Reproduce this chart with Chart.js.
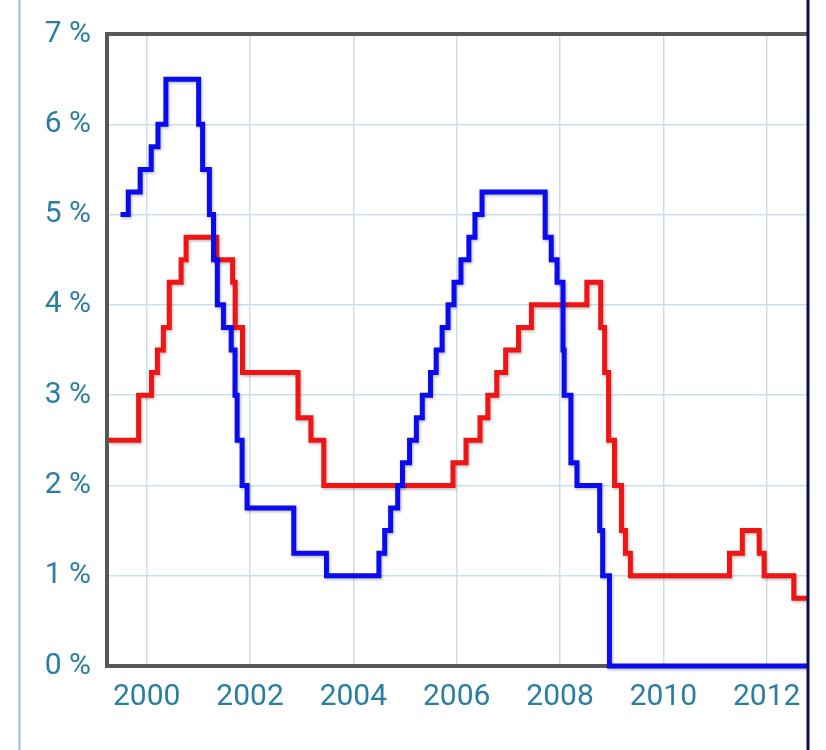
<!DOCTYPE html>
<html>
<head>
<meta charset="utf-8">
<script src="https://cdn.jsdelivr.net/npm/chart.js@4/dist/chart.umd.min.js"></script>
<style>
  html, body { margin: 0; padding: 0; background: #ffffff; }
  #wrap { width: 826px; height: 750px; position: relative; }
</style>
</head>
<body>
<div id="wrap"><canvas id="c" width="826" height="750"></canvas></div>
<script>
// US Federal funds target rate (blue): date of change and new rate (%)
const fedDates = ['1999-06-30','1999-08-24','1999-11-16','2000-02-02','2000-03-21','2000-05-16',
  '2001-01-03','2001-01-31','2001-03-20','2001-04-18','2001-05-15','2001-06-27','2001-08-21',
  '2001-09-17','2001-10-02','2001-11-06','2001-12-11','2002-11-06','2003-06-25','2004-06-30',
  '2004-08-10','2004-09-21','2004-11-10','2004-12-14','2005-02-02','2005-03-22','2005-05-03',
  '2005-06-30','2005-08-09','2005-09-20','2005-11-01','2005-12-13','2006-01-31','2006-03-28',
  '2006-05-10','2006-06-29','2007-09-18','2007-10-31','2007-12-11','2008-01-22','2008-01-30',
  '2008-03-18','2008-04-30','2008-10-08','2008-10-29','2008-12-16','2012-12-31'];
const fedRates = [5.0,5.25,5.5,5.75,6.0,6.5,
  6.0,5.5,5.0,4.5,4.0,3.75,3.5,
  3.0,2.5,2.0,1.75,1.25,1.0,1.25,
  1.5,1.75,2.0,2.25,2.5,2.75,3.0,
  3.25,3.5,3.75,4.0,4.25,4.5,4.75,
  5.0,5.25,4.75,4.5,4.25,3.5,3.0,
  2.25,2.0,1.5,1.0,0,0];

// ECB main refinancing rate (red)
const ecbDates = ['1999-04-09','1999-11-05','2000-02-04','2000-03-17','2000-04-28','2000-06-09',
  '2000-09-01','2000-10-06','2001-05-11','2001-08-31','2001-09-18','2001-11-09','2002-12-06',
  '2003-03-07','2003-06-06','2005-12-06','2006-03-08','2006-06-15','2006-08-09','2006-10-11',
  '2006-12-13','2007-03-14','2007-06-13','2008-07-09','2008-10-15','2008-11-12','2008-12-10',
  '2009-01-21','2009-03-11','2009-04-08','2009-05-13','2011-04-13','2011-07-13','2011-11-09',
  '2011-12-14','2012-07-11','2012-12-31'];
const ecbRates = [2.5,3.0,3.25,3.5,3.75,4.25,
  4.5,4.75,4.5,4.25,3.75,3.25,2.75,
  2.5,2.0,2.25,2.5,2.75,3.0,3.25,
  3.5,3.75,4.0,4.25,3.75,3.25,2.5,
  2.0,1.5,1.25,1.0,1.25,1.5,1.25,
  1.0,0.75,0.75];

const xTickYears = [2000, 2002, 2004, 2006, 2008, 2010, 2012];
const yTickValues = [0, 1, 2, 3, 4, 5, 6, 7];

function toYear(s) {
  const [y, m, d] = s.split('-').map(Number);
  const start = Date.UTC(y, 0, 1), end = Date.UTC(y + 1, 0, 1);
  return y + (Date.UTC(y, m - 1, d) - start) / (end - start);
}
function pts(dates, vals) { return dates.map((d, i) => ({ x: toYear(d), y: vals[i] })); }

const labelColor = '#2a7ea2';
const gridColor = '#cadfee';
const axisGray = '#585858';

const frame = {
  id: 'frame',
  beforeDatasetsDraw(chart) {
    const { ctx, chartArea: a } = chart;
    ctx.save();
    ctx.strokeStyle = axisGray;
    ctx.lineWidth = 4;
    ctx.beginPath();
    ctx.moveTo(a.left - 2, a.top);
    ctx.lineTo(a.right, a.top);
    ctx.stroke();
    ctx.restore();
  },
  beforeDatasetDraw(chart) {
    const ctx = chart.ctx;
    ctx.save();
    ctx.shadowColor = 'rgba(0,0,0,0.28)';
    ctx.shadowBlur = 3;
    ctx.shadowOffsetX = 1;
    ctx.shadowOffsetY = 1.5;
  },
  afterDatasetDraw(chart) { chart.ctx.restore(); },
  afterDraw(chart) {
    const { ctx, chartArea: a } = chart;
    ctx.save();
    ctx.strokeStyle = '#a9c6e2';
    ctx.lineWidth = 2.5;
    ctx.beginPath(); ctx.moveTo(19.5, 0); ctx.lineTo(19.5, 750); ctx.stroke();
    ctx.strokeStyle = '#0b0b55';
    ctx.lineWidth = 3;
    ctx.beginPath(); ctx.moveTo(a.right + 1, 0); ctx.lineTo(a.right + 1, 750); ctx.stroke();
    ctx.restore();
  }
};

new Chart(document.getElementById('c'), {
  type: 'line',
  data: {
    datasets: [
      { label: 'Fed', data: pts(fedDates, fedRates), borderColor: '#0b0bf0', borderWidth: 5,
        stepped: 'before', pointRadius: 0, fill: false, clip: { left: 6, top: 6, right: 0, bottom: 6 } },
      { label: 'ECB', data: pts(ecbDates, ecbRates), borderColor: '#f01515', borderWidth: 5,
        stepped: 'before', pointRadius: 0, fill: false, clip: { left: 6, top: 6, right: 0, bottom: 6 } }
    ]
  },
  options: {
    responsive: false,
    animation: false,
    layout: { padding: { left: 0, right: 19, top: 34, bottom: 0 } },
    plugins: { legend: { display: false }, tooltip: { enabled: false } },
    scales: {
      x: {
        type: 'linear', min: 1999.232, max: 2012.78,
        afterBuildTicks(s) { s.ticks = xTickYears.map(v => ({ value: v })); },
        afterFit(s) { s.height = 84; },
        grid: { color: gridColor, lineWidth: 1.5, drawTicks: false },
        border: { display: true, color: axisGray, width: 4 },
        ticks: { color: labelColor, font: { family: 'Roboto', size: 30 }, padding: 13,
          maxRotation: 0, autoSkip: false, callback: v => String(v) }
      },
      y: {
        min: 0, max: 7,
        afterBuildTicks(s) { s.ticks = yTickValues.map(v => ({ value: v })); },
        afterFit(s) { s.width = 107; },
        grid: { color: gridColor, lineWidth: 1.5, drawTicks: false },
        border: { display: true, color: axisGray, width: 4 },
        ticks: { color: labelColor, font: { family: 'Roboto', size: 30 }, padding: 16,
          callback: v => v + ' %' }
      }
    }
  },
  plugins: [frame]
});
</script>
</body>
</html>
